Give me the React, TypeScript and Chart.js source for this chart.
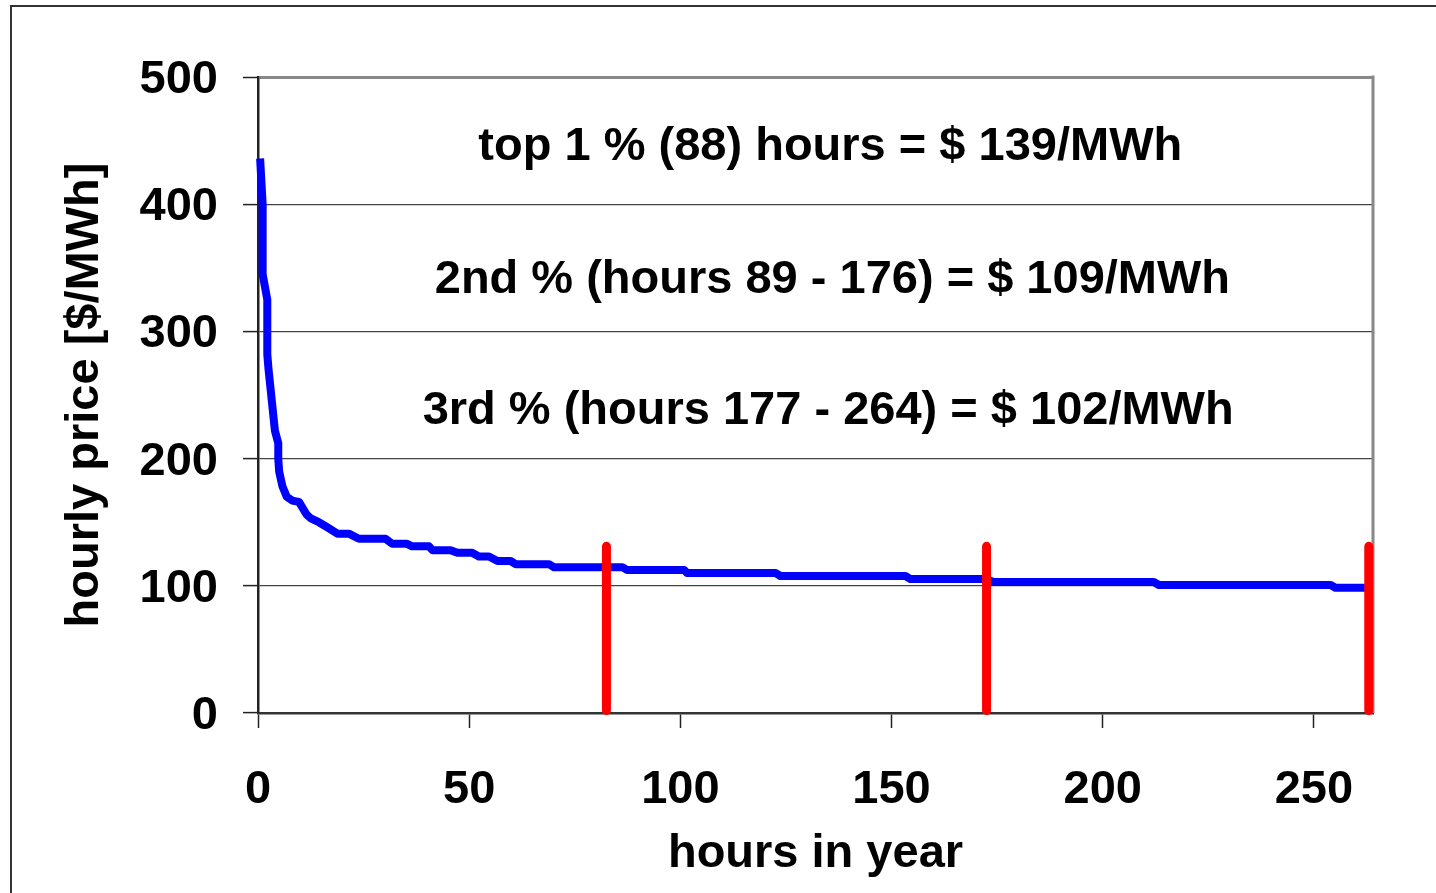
import React, { useEffect, useRef } from "react";
import { Chart, registerables } from "chart.js";

Chart.register(...registerables);

// blue price-duration curve: hours in year vs hourly price [$/MWh]
const curveHours = [
  0.5, 1.1, 1.1, 2.2, 2.2, 2.5, 4.0, 4.8, 4.8, 5.0, 5.8, 6.8, 8.1, 9.7, 11.5, 12.5, 14.4,
  16.4, 18.8, 21.5, 23.9, 30.2, 31.8, 35.3, 36.5, 40.5, 41.3, 45.6, 47.2, 50.7, 52.3, 54.7,
  56.7, 59.8, 61.0, 68.9, 70.1, 86.3, 87.4, 100.9, 101.6, 122.6, 123.7, 153.3, 154.5, 172.3,
  174.2, 212.1, 213.3, 254.0, 255.1, 264.0,
];
const curvePrices = [
  436, 400, 345, 325, 282, 270, 222, 212, 200, 190, 178, 170, 167, 166, 156, 153, 150,
  146, 141, 141, 137, 137, 133, 133, 131, 131, 128, 128, 126, 126, 123, 123,
  119.5, 119.5, 117, 117, 114.5, 114.5, 112.5, 112.5, 110, 110, 107.7, 107.7, 105.3, 105.3,
  103, 103, 100.6, 100.6, 98.5, 98.5,
];

// red percentile markers
const markerHours = [82.5, 172.5, 263];
const markerLow = 2;
const markerHigh = 131;

const annotationTexts = [
  "top 1 % (88) hours = $ 139/MWh",
  "2nd % (hours 89 - 176) = $ 109/MWh",
  "3rd % (hours 177 - 264) = $ 102/MWh",
];
const annotationHours = [135.5, 136, 135];
const annotationPrices = [445, 340, 237];

const yTicks = [0, 100, 200, 300, 400, 500];
const xMax = 264;

const FONT = "'Liberation Sans', Arial, Helvetica, sans-serif";

export default function App() {
  const canvasRef = useRef<HTMLCanvasElement | null>(null);

  useEffect(() => {
    const canvas = canvasRef.current;
    if (!canvas) return;

    const curve = curveHours.map((h, i) => ({ x: h, y: curvePrices[i] }));
    const markers: { x: number; y: number | null }[] = [];
    markerHours.forEach((h, i) => {
      markers.push({ x: h, y: markerLow });
      markers.push({ x: h, y: markerHigh });
      if (i < markerHours.length - 1) markers.push({ x: h, y: null });
    });

    const framePlugin = {
      id: "frameAndText",
      beforeDatasetsDraw(chart: any) {
        const { ctx, chartArea } = chart;
        ctx.save();
        ctx.strokeStyle = "#888888";
        ctx.lineWidth = 3;
        ctx.beginPath();
        ctx.moveTo(chartArea.right, chartArea.top - 1.5);
        ctx.lineTo(chartArea.right, chartArea.bottom);
        ctx.stroke();
        ctx.restore();
      },
      afterDraw(chart: any) {
        const { ctx } = chart;
        const xs = chart.scales.x;
        const ys = chart.scales.y;
        ctx.save();
        ctx.fillStyle = "#000000";
        ctx.font = `bold 47px ${FONT}`;
        ctx.textAlign = "center";
        ctx.textBaseline = "middle";
        annotationTexts.forEach((t, i) => {
          ctx.fillText(
            t,
            xs.getPixelForValue(annotationHours[i]),
            ys.getPixelForValue(annotationPrices[i])
          );
        });
        ctx.restore();
      },
    };

    const chart = new Chart(canvas, {
      type: "scatter",
      data: {
        datasets: [
          {
            label: "markers",
            data: markers as any,
            showLine: true,
            spanGaps: false,
            borderColor: "#ff0000",
            backgroundColor: "#ff0000",
            borderWidth: 9,
            borderCapStyle: "round",
            pointRadius: 0,
            clip: false as any,
            order: 0,
          },
          {
            label: "price",
            data: curve,
            showLine: true,
            borderColor: "#0000ff",
            backgroundColor: "#0000ff",
            borderWidth: 8,
            borderJoinStyle: "round",
            borderCapStyle: "butt",
            pointRadius: 0,
            tension: 0,
            clip: false as any,
            order: 1,
          },
        ],
      },
      options: {
        animation: false,
        responsive: false,
        maintainAspectRatio: false,
        layout: { padding: { left: 0, top: 77, right: 63, bottom: 0 } },
        plugins: {
          legend: { display: false },
          tooltip: { enabled: false },
          title: { display: false },
        },
        scales: {
          x: {
            type: "linear",
            min: 0,
            max: xMax,
            afterFit: (scale: any) => {
              scale.height = 180;
            },
            ticks: {
              stepSize: 50,
              includeBounds: false,
              padding: 34,
              color: "#000000",
              font: { family: FONT, size: 47, weight: "bold" },
              maxRotation: 0,
            },
            grid: {
              drawOnChartArea: false,
              drawTicks: true,
              tickLength: 15,
              tickColor: "#222222",
              tickWidth: 1.5,
            },
            border: { display: true, color: "#333333", width: 2.5 },
            title: {
              display: true,
              text: "hours in year",
              color: "#000000",
              font: { family: FONT, size: 47, weight: "bold" },
              padding: { top: 0, bottom: 11 },
            },
          },
          y: {
            type: "linear",
            min: 0,
            max: 500,
            afterFit: (scale: any) => {
              scale.width = 258;
            },
            afterBuildTicks: (scale: any) => {
              scale.ticks = yTicks.map((v) => ({ value: v }));
            },
            ticks: {
              padding: 25,
              color: "#000000",
              font: { family: FONT, size: 47, weight: "bold", lineHeight: "6px" },
              callback: (value: any) => ["", String(value)],
            },
            grid: {
              color: (ctx: any) => (ctx.tick && ctx.tick.value === 500 ? "#888888" : "#444444"),
              lineWidth: (ctx: any) => (ctx.tick && ctx.tick.value === 500 ? 3 : 1.2),
              drawTicks: true,
              tickLength: 15,
              tickColor: "#222222",
              tickWidth: 1.5,
            },
            border: { display: true, color: "#222222", width: 2.5 },
            title: {
              display: true,
              text: "hourly price [$/MWh]",
              color: "#000000",
              font: { family: FONT, size: 47, weight: "bold" },
              padding: { top: 57, bottom: 0 },
            },
          },
        },
      },
      plugins: [framePlugin],
    } as any);

    return () => {
      chart.destroy();
    };
  }, []);

  return (
    <div
      style={{
        position: "fixed",
        left: 0,
        top: 0,
        width: 1436,
        height: 893,
        overflow: "hidden",
        background: "#ffffff",
      }}
    >
      <div
        style={{
          position: "absolute",
          left: 10,
          top: 5,
          width: 1500,
          height: 1000,
          border: "2px solid #333333",
          boxSizing: "border-box",
        }}
      />
      <canvas
        ref={canvasRef}
        width={1436}
        height={893}
        style={{ position: "absolute", left: 0, top: 0, width: 1436, height: 893 }}
      />
    </div>
  );
}
